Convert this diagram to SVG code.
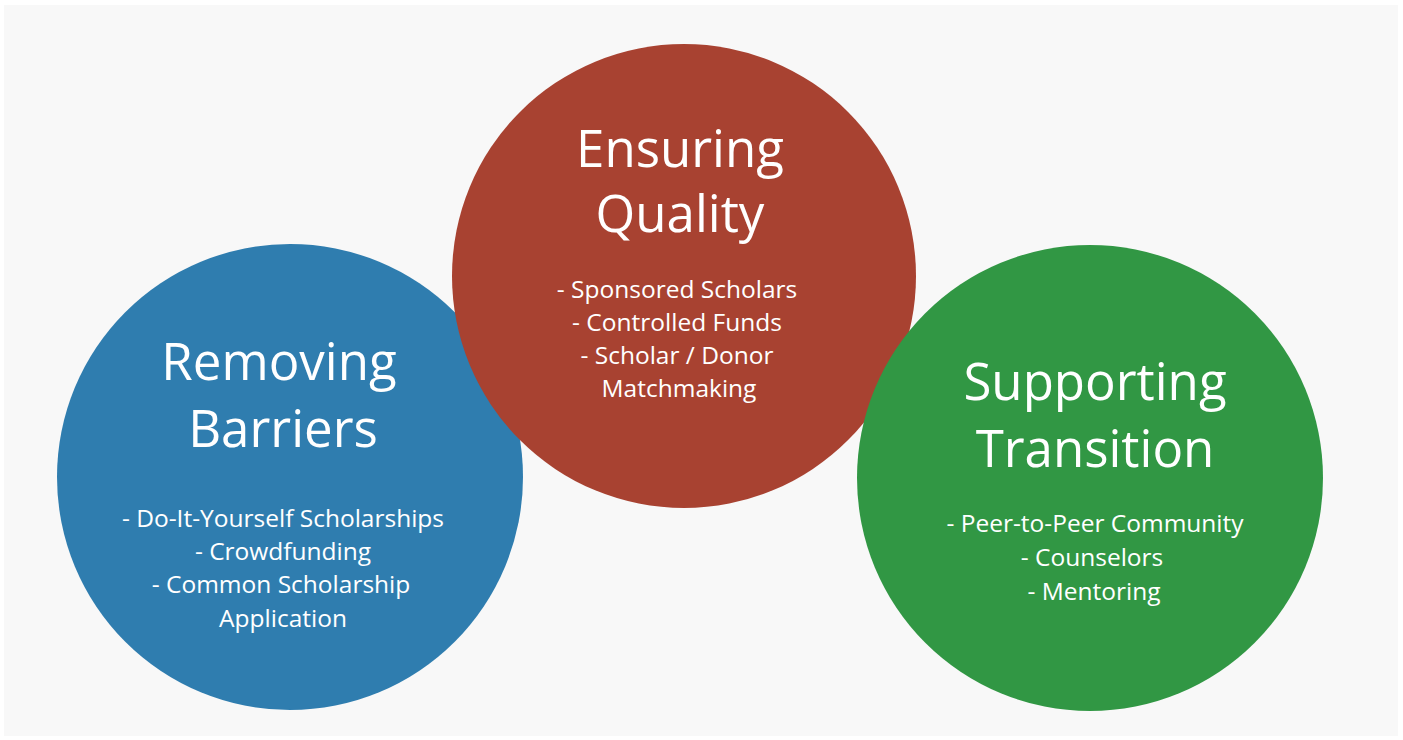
<svg xmlns="http://www.w3.org/2000/svg" width="1403" height="740" viewBox="0 0 1403 740">
<style>
.title{font-family:"Open Sans","Liberation Sans",sans-serif;font-size:51px;fill:#ffffff;text-anchor:middle}
.item{font-family:"Open Sans","Liberation Sans",sans-serif;font-size:24.5px;fill:#ffffff;text-anchor:middle}
</style>
<rect x="0" y="0" width="1403" height="740" fill="#ffffff"/>
<rect x="4" y="5" width="1394" height="731" fill="#f8f8f8"/>
<g id="removing-barriers">
<circle cx="290" cy="477" r="233" fill="#2f7daf"/>
<text class="title" x="279" y="380">Removing</text>
<text class="title" x="283" y="447">Barriers</text>
<text class="item" x="283" y="527">- Do-It-Yourself Scholarships</text>
<text class="item" x="283" y="560">- Crowdfunding</text>
<text class="item" x="281" y="593">- Common Scholarship</text>
<text class="item" x="283" y="627">Application</text>
</g>
<g id="ensuring-quality">
<circle cx="684" cy="276" r="232" fill="#a84231"/>
<text class="title" x="680" y="167">Ensuring</text>
<text class="title" x="680" y="232">Quality</text>
<text class="item" x="677" y="298">- Sponsored Scholars</text>
<text class="item" x="677" y="331">- Controlled Funds</text>
<text class="item" x="677" y="364">- Scholar / Donor</text>
<text class="item" x="679" y="397">Matchmaking</text>
</g>
<g id="supporting-transition">
<circle cx="1090" cy="478" r="233" fill="#319744"/>
<text class="title" x="1095" y="400">Supporting</text>
<text class="title" x="1095" y="467">Transition</text>
<text class="item" x="1095" y="532">- Peer-to-Peer Community</text>
<text class="item" x="1092" y="566">- Counselors</text>
<text class="item" x="1094" y="600">- Mentoring</text>
</g>
<g id="connectors"></g>
</svg>
